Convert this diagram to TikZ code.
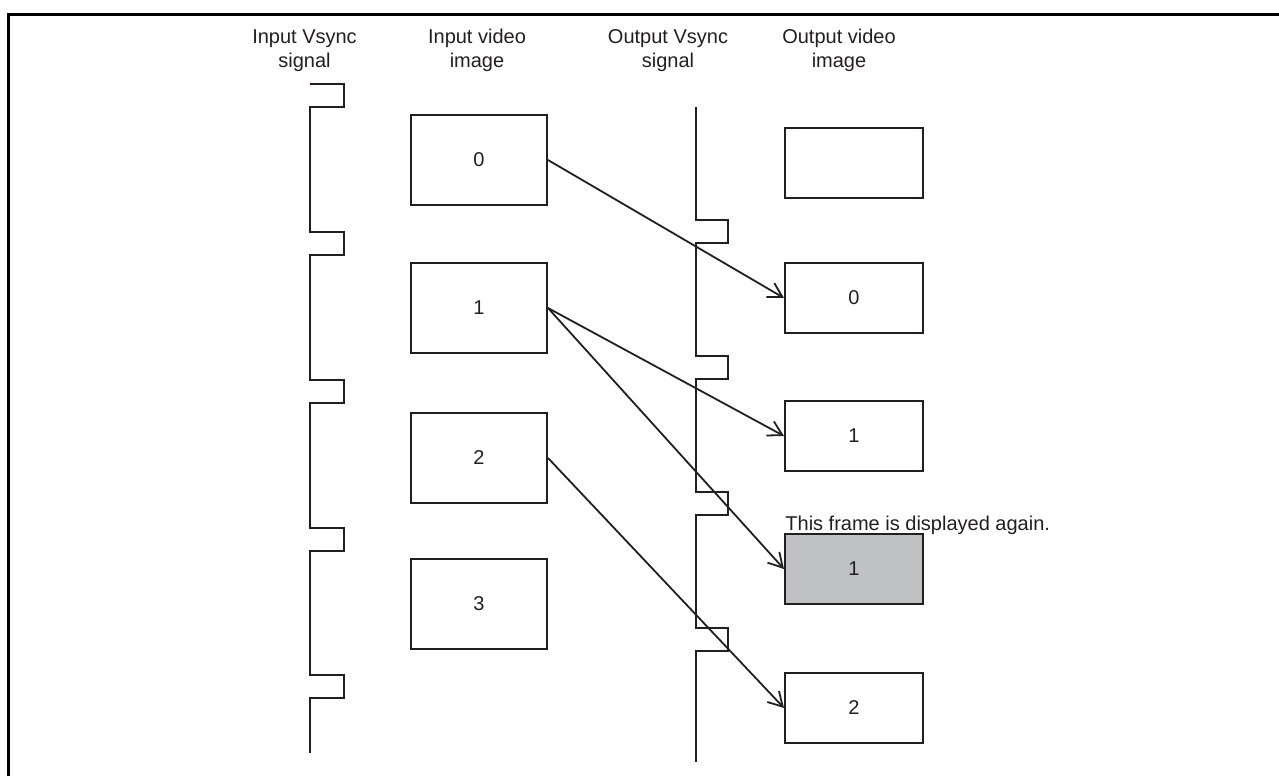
\documentclass[tikz,border=0pt]{standalone}
\usepackage{fontspec}
\setmainfont{Liberation Sans}
\usetikzlibrary{arrows.meta}
\definecolor{ink}{RGB}{35,31,32}
\definecolor{boxgray}{RGB}{192,193,195}
\begin{document}
\begin{tikzpicture}[x=0.5pt,y=-0.5pt,
  every node/.style={font=\fontsize{10}{12}\selectfont, text=ink},
  inbox/.style={draw=ink, line width=1pt, minimum width=68pt, minimum height=45pt, inner sep=0pt},
  outbox/.style={draw=ink, line width=1pt, minimum width=69pt, minimum height=35pt, inner sep=0pt},
  header/.style={align=center, anchor=base, inner sep=0pt},
  wave/.style={draw=ink, line width=0.8pt},
  link/.style={draw=ink, line width=0.9pt, -{Straight Barb[length=7pt,width=8pt,line width=0.9pt]}}
]
\useasboundingbox (0,0) rectangle (1279,776);
% frame
\draw[line width=1.4pt] (8.7,776) -- (8.7,14.7) -- (1279,14.7);
% headers
\node[header] (h1) at (304.5,67) {Input Vsync\\signal};
\node[header] (h2) at (477,67) {Input video\\image};
\node[header] (h3) at (668,67) {Output Vsync\\signal};
\node[header] (h4) at (839,67) {Output video\\image};
% input vsync
\draw[wave] (310,84) -- (344,84) -- (344,107) -- (310,107)
  -- (310,232) -- (344,232) -- (344,255) -- (310,255)
  -- (310,380) -- (344,380) -- (344,403) -- (310,403)
  -- (310,528) -- (344,528) -- (344,551) -- (310,551)
  -- (310,675) -- (344,675) -- (344,698) -- (310,698)
  -- (310,753);
% output vsync
\draw[wave] (696,107) -- (696,220) -- (728,220) -- (728,243) -- (696,243)
  -- (696,356) -- (728,356) -- (728,379) -- (696,379)
  -- (696,492) -- (728,492) -- (728,515) -- (696,515)
  -- (696,628) -- (728,628) -- (728,651) -- (696,651)
  -- (696,762);
% input boxes
\node[inbox] (i0) at (479,160) {0};
\node[inbox] (i1) at (479,308) {1};
\node[inbox] (i2) at (479,458) {2};
\node[inbox] (i3) at (479,604) {3};
% output boxes
\node[outbox] (oe) at (854,163) {};
\node[outbox] (o0) at (854,298) {0};
\node[outbox] (o1) at (854,436) {1};
\node[outbox, fill=boxgray] (o1b) at (854,569) {1};
\node[outbox] (o2) at (854,708) {2};
\node[anchor=base west, inner sep=0pt] (note) at (785,530) {This frame is displayed again.};
% connectors
\draw[link] (i0.east) -- (o0.west);
\draw[link] (i1.east) -- (o1.west);
\draw[link] (i1.east) -- (o1b.west);
\draw[link] (i2.east) -- (o2.west);
\end{tikzpicture}
\end{document}
